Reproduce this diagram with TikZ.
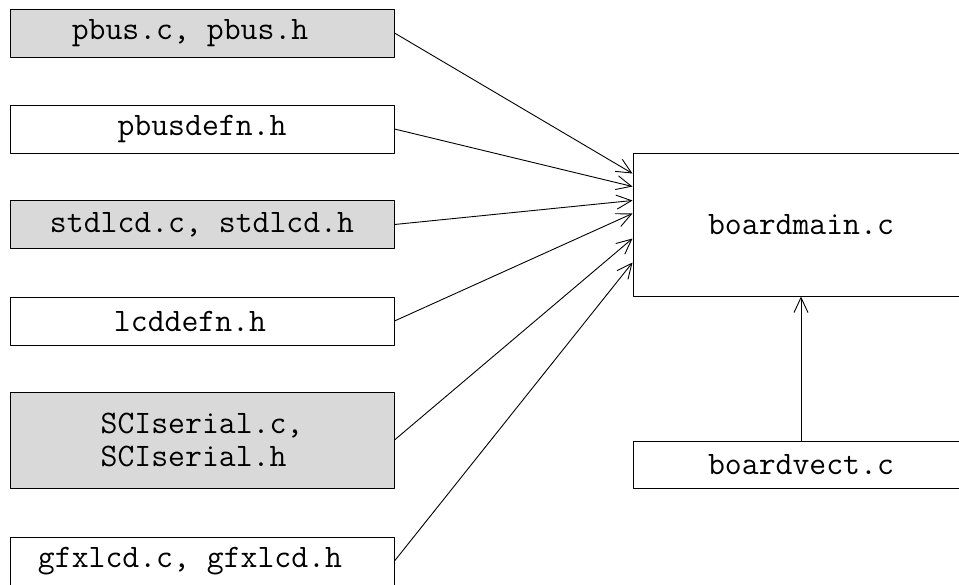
\documentclass[tikz,border=0pt]{standalone}
\usepackage{fontspec}
\usetikzlibrary{arrows.meta}
\begin{document}
\begin{tikzpicture}[x=1pt, y=-1pt, line join=round, >={Straight Barb[length=15pt,width=14pt]}]
	\tikzset{every node/.style={font=\ttfamily\fontsize{32.8}{33}\selectfont},
		file/.style={draw, line width=1pt, rectangle, inner sep=0pt, minimum width=384pt, minimum height=48pt},
		shaded/.style={file, fill=black!15},
		lopsided/.style={execute at end node=\hspace*{24pt}}}
	\useasboundingbox (0,0) rectangle (959,584);
	\clip (0,0) rectangle (959,584);
	\node[shaded, lopsided] (pbus) at (202,33) {pbus.c, pbus.h};
	\node[file] (pbusdefn) at (202,129) {pbusdefn.h};
	\node[shaded] (stdlcd) at (202,224.5) {stdlcd.c, stdlcd.h};
	\node[file, lopsided] (lcddefn) at (202,321) {lcddefn.h};
	\node[shaded, minimum height=96pt, align=left] (sci) at (202,440) {SCIserial.c,\\SCIserial.h};
	\node[file, lopsided] (gfx) at (202,561) {gfxlcd.c, gfxlcd.h};
	\node[file, minimum width=336pt, minimum height=143pt] (bmain) at (801,224.5) {boardmain.c};
	\node[file, minimum width=336pt, minimum height=47pt] (bvect) at (801,464.5) {boardvect.c};
	\foreach \src/\dy in {pbus/21, pbusdefn/34, stdlcd/48, lcddefn/61, sci/86, gfx/110}
		\draw[->, line width=0.9pt] (\src.east) -- ([yshift=-\dy pt]bmain.north west);
	\draw[->, line width=0.9pt] (bvect.north) -- (bmain.south);
\end{tikzpicture}
\end{document}
